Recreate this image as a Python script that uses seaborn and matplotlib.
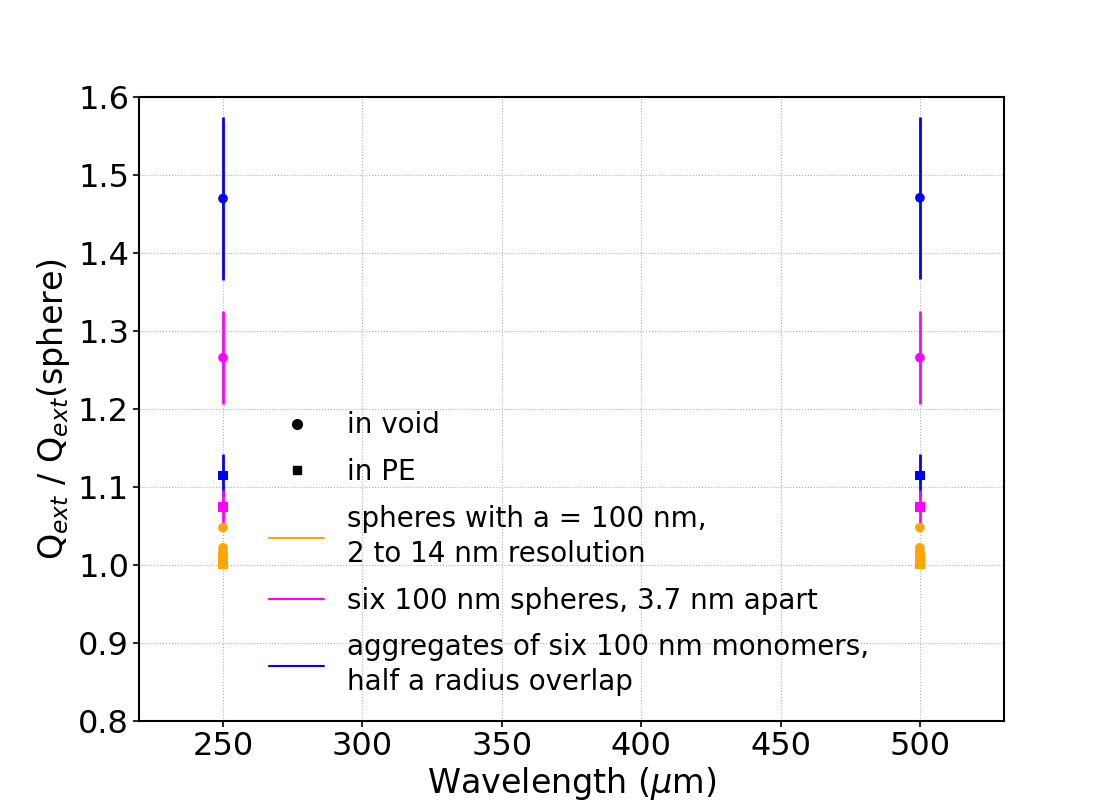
import numpy as np
import pandas as pd
import seaborn as sns
import matplotlib.pyplot as plt
from matplotlib.lines import Line2D

# values
wavelengths = [250, 500]

# aggregates of six monomers (blue)
agg_void = [1.470, 1.471]
agg_void_err = [0.104, 0.104]
agg_pe = [1.115, 1.115]
agg_pe_err = [0.027, 0.027]

# six spheres, 3.7 nm apart (magenta)
six_void = [1.266, 1.266]
six_void_err = [0.060, 0.060]
six_pe = [1.074, 1.074]
six_pe_err = [0.022, 0.022]

# single spheres at different resolutions (orange)
sph_void = [1.048, 1.022, 1.017, 1.013]
sph_pe = [1.009, 1.005, 1.001]

sns.set_style("ticks", {"axes.edgecolor": "black", "xtick.color": "black",
                        "ytick.color": "black", "text.color": "black",
                        "axes.labelcolor": "black"})
plt.rcParams["font.family"] = ["DejaVu Sans"]

fig, ax = plt.subplots(figsize=(11.15, 8.1), dpi=100)

rows = []
for w_i, wl in enumerate(wavelengths):
    rows.append(("agg", "void", wl, agg_void[w_i], agg_void_err[w_i]))
    rows.append(("agg", "PE", wl, agg_pe[w_i], agg_pe_err[w_i]))
    rows.append(("six", "void", wl, six_void[w_i], six_void_err[w_i]))
    rows.append(("six", "PE", wl, six_pe[w_i], six_pe_err[w_i]))
    for v in sph_void:
        rows.append(("sph", "void", wl, v, 0.0))
    for v in sph_pe:
        rows.append(("sph", "PE", wl, v, 0.0))
df = pd.DataFrame(rows, columns=["kind", "medium", "wl", "q", "err"])

colors = {"agg": "blue", "six": "magenta", "sph": "orange"}
markers = {"void": "o", "PE": "s"}

for kind in ["agg", "six", "sph"]:
    sub = df[df["kind"] == kind]
    ax.errorbar(sub["wl"], sub["q"], yerr=sub["err"], fmt="none",
                ecolor=colors[kind], elinewidth=2, zorder=2)
    sns.scatterplot(data=sub, x="wl", y="q", style="medium", markers=markers,
                    color=colors[kind], s=48, edgecolor="none", ax=ax,
                    legend=False, zorder=3)

ax.set_xlim(220, 530)
ax.set_ylim(0.8, 1.6)
ax.set_xticks(np.arange(250, 501, 50))
ax.set_yticks(np.arange(0.8, 1.61, 0.1))
ax.grid(True, linestyle=":", color="#b0b0b0", linewidth=0.8)
ax.tick_params(labelsize=23, width=1.2, length=4)
for sp in ax.spines.values():
    sp.set_linewidth(1.5)

ax.set_xlabel(r"Wavelength ($\mu$m)", fontsize=24, labelpad=2)
ax.set_ylabel(r"Q$_{ext}$ / Q$_{ext}$(sphere)", fontsize=24)

handles = [
    Line2D([], [], linestyle="none", marker="o", color="black", markersize=7),
    Line2D([], [], linestyle="none", marker="s", color="black", markersize=5.5),
    Line2D([], [], color="orange", linewidth=1.5),
    Line2D([], [], color="magenta", linewidth=1.5),
    Line2D([], [], color="blue", linewidth=1.5),
]
labels = ["in void", "in PE",
          "spheres with a = 100 nm,\n2 to 14 nm resolution",
          "six 100 nm spheres, 3.7 nm apart",
          "aggregates of six 100 nm monomers,\nhalf a radius overlap"]
leg = ax.legend(handles, labels, frameon=False, fontsize=20, loc="lower left",
                bbox_to_anchor=(0.137, 0.022), borderaxespad=0,
                labelspacing=0.68)
for t in leg.get_texts():
    t.set_linespacing(1.3)

fig.savefig("out.png", dpi=100)
